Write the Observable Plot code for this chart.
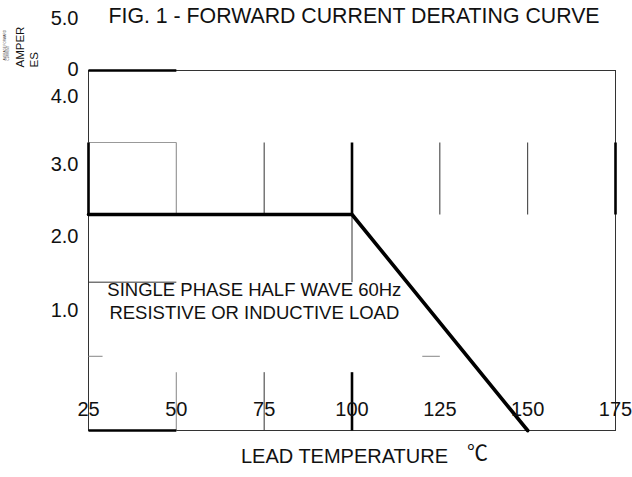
<!DOCTYPE html>
<html>
<head>
<meta charset="utf-8">
<script src="https://cdn.jsdelivr.net/npm/d3@7"></script>
<script src="https://cdn.jsdelivr.net/npm/@observablehq/plot@0.6"></script>
<style>
  html, body { margin: 0; padding: 0; background: #fff; }
  svg { display: block; }
</style>
</head>
<body>
<script>
// ---- Data ----
const title = "FIG. 1 - FORWARD CURRENT DERATING CURVE";
const xTitle = "LEAD TEMPERATURE";
const unitLabel = "℃";
const yTitle = "AMPER\nES";
const yTiny = "AVERAGE FORWARD\nCURRENT";
const note = "SINGLE PHASE HALF WAVE 60Hz\nRESISTIVE OR INDUCTIVE LOAD";

// derating curve: lead temperature (°C) vs forward current (A)
const temps = [25, 100, 150];
const amps = [3.0, 3.0, 0];

// tick labels
const xTicks = [25, 50, 75, 100, 125, 150, 175];
const yTickLabels = ["5.0", "0", "4.0", "3.0", "2.0", "1.0"];
const yTickAt = [5.72, 5.01, 4.64, 3.69, 2.69, 1.67];

// grid fragments [x1, y1, x2, y2] in data units
const gridHeavy = [
  [25, 5, 50, 5], [25, 0, 50, 0], [25, 4, 25, 3], [175, 4, 175, 3],
  [100, 4, 100, 3], [100, 0, 100, 0.81]
];
const gridLight = [
  [25, 4, 50, 4], [50, 4, 50, 3], [50, 0, 50, 0.81],
  [25, 1.03, 29, 1.03], [120, 1.03, 125, 1.03]
];
const gridDark = [
  [75, 4, 75, 3], [125, 4, 125, 3], [150, 4, 150, 3],
  [75, 0, 75, 0.81], [100, 3, 100, 2.06], [25, 2.06, 50, 2.06]
];

// ---- Chart ----
const curve = temps.map((t, i) => ({t, a: amps[i]}));
const seg = s => ({x1: s[0], y1: s[1], x2: s[2], y2: s[3]});
const yLabels = yTickLabels.map((l, i) => ({l, y: yTickAt[i]}));
const ink = "#111";

const chart = Plot.plot({
  width: 632,
  height: 477,
  marginLeft: 88,
  marginRight: 17,
  marginTop: 70,
  marginBottom: 47,
  x: {domain: [25, 175], axis: null},
  y: {domain: [0, 5], axis: null},
  style: {fontFamily: "'Liberation Sans', Arial, sans-serif", background: "#fff", color: ink},
  marks: [
    Plot.frame({stroke: "#333", strokeWidth: 1}),
    Plot.link(gridLight.map(seg), {x1: "x1", y1: "y1", x2: "x2", y2: "y2", stroke: "#999", strokeWidth: 1.2}),
    Plot.link(gridDark.map(seg), {x1: "x1", y1: "y1", x2: "x2", y2: "y2", stroke: "#333", strokeWidth: 1}),
    Plot.link(gridHeavy.map(seg), {x1: "x1", y1: "y1", x2: "x2", y2: "y2", stroke: "#000", strokeWidth: 2.6}),
    Plot.line(curve, {x: "t", y: "a", stroke: "#000", strokeWidth: 3.6}),
    Plot.text([note], {x: 72.2, y: 1.81, text: d => d, fontSize: 18.5, lineHeight: 1.25, fill: ink}),
    // y tick labels
    Plot.text(yLabels, {y: "y", text: "l", frameAnchor: "left", dx: -10, textAnchor: "end", fontSize: 20, fill: ink}),
    // x tick labels
    Plot.text(xTicks, {x: d => d, text: d => String(d), frameAnchor: "bottom", dy: -15, fontSize: 20, fill: ink}),
    // x title
    Plot.text([xTitle], {frameAnchor: "bottom-left", dx: 256, dy: 32, textAnchor: "middle", text: d => d, fontSize: 20, fill: ink}),
    Plot.text([unitLabel], {frameAnchor: "bottom-left", dx: 389, dy: 29, textAnchor: "middle", text: d => d, fontSize: 21, fill: ink,
      fontFamily: "'Noto Sans CJK SC', sans-serif"}),
    // chart title
    Plot.text([title], {frameAnchor: "top-left", dx: 20, dy: -63, textAnchor: "start", text: d => d, fontSize: 21.3, fill: ink}),
    // y title (rotated)
    Plot.text([yTitle], {frameAnchor: "top-left", dx: -62, dy: -3, rotate: -90, textAnchor: "start",
      lineAnchor: "middle", lineHeight: 1.25, text: d => d, fontSize: 11.5, fill: ink}),
    Plot.text([yTiny], {frameAnchor: "top-left", dx: -81.5, dy: -10, rotate: -90, textAnchor: "start",
      lineAnchor: "middle", lineHeight: 1, text: d => d, fontSize: 3, fill: "#444"})
  ]
});

document.body.appendChild(chart);
</script>
</body>
</html>
